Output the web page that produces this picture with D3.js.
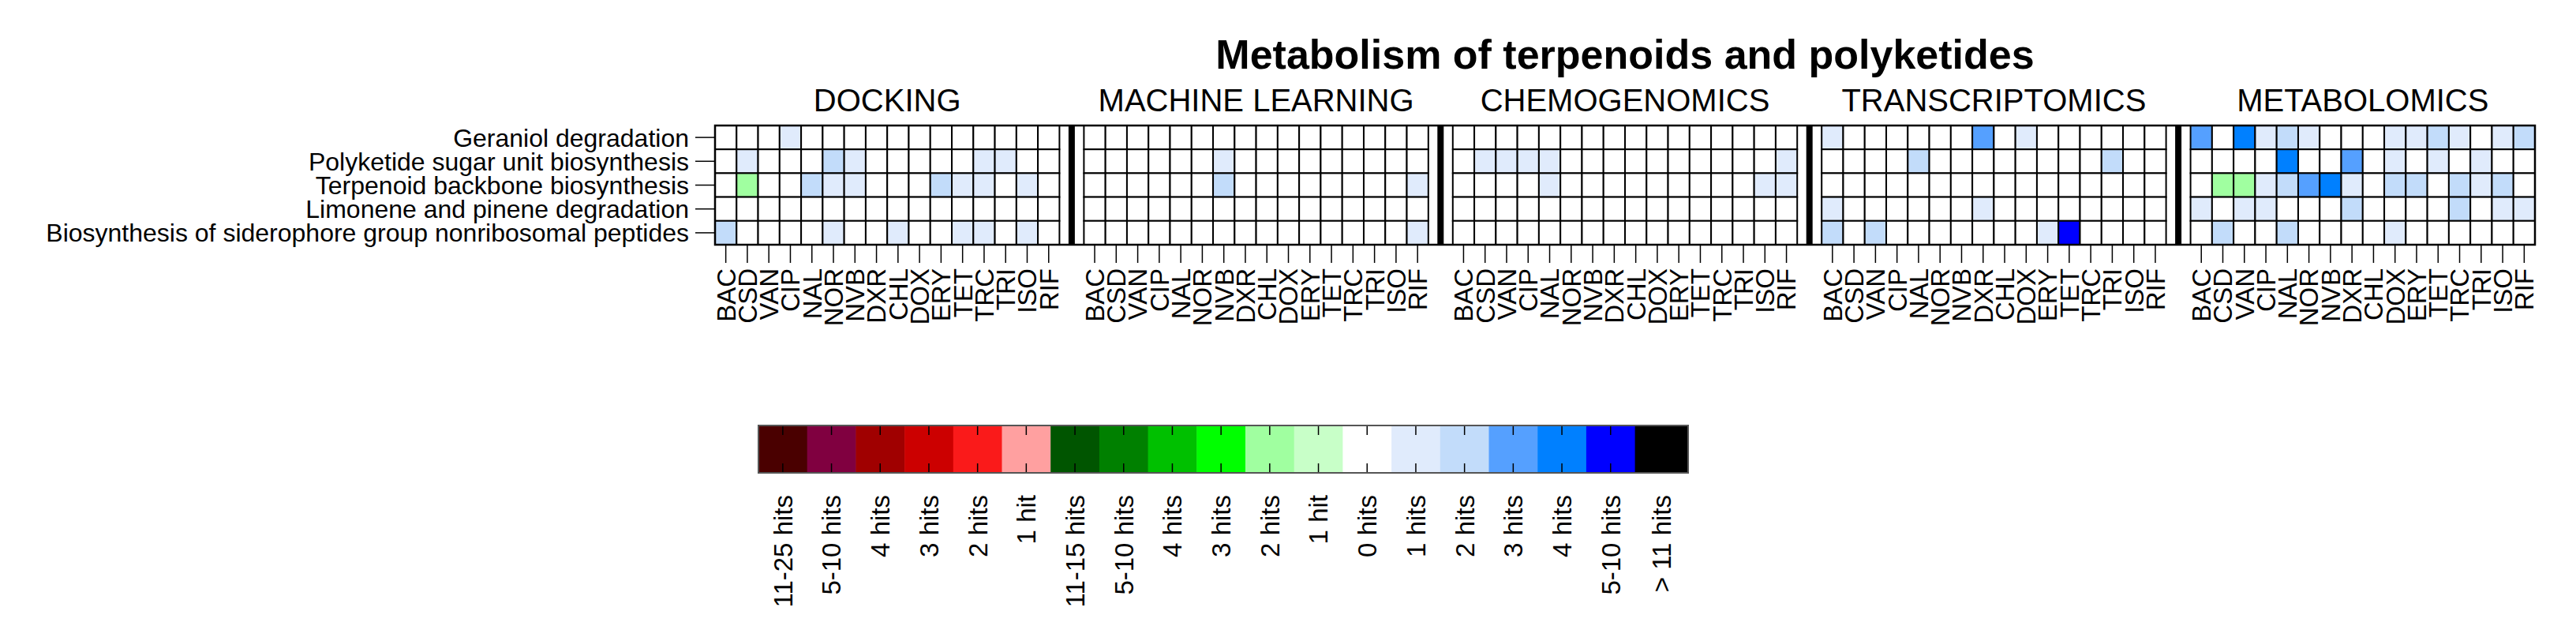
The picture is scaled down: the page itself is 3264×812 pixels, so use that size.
<!DOCTYPE html>
<html>
<head>
<meta charset="utf-8">
<script src="https://cdn.jsdelivr.net/npm/d3@7"></script>
<style>
  html, body { margin: 0; padding: 0; background: #ffffff; }
  svg { display: block; font-family: "Liberation Sans", Arial, Helvetica, sans-serif; }
</style>
</head>
<body>
<svg id="chart" width="3264" height="812"></svg>
<script>
// ---------- DATA ----------
const title = "Metabolism of terpenoids and polyketides";
const panels = ["DOCKING", "MACHINE LEARNING", "CHEMOGENOMICS", "TRANSCRIPTOMICS", "METABOLOMICS"];
const drugs = ["BAC", "CSD", "VAN", "CIP", "NAL", "NOR", "NVB", "DXR", "CHL", "DOX", "ERY", "TET", "TRC", "TRI", "ISO", "RIF"];
const pathways = [
  "Geraniol degradation",
  "Polyketide sugar unit biosynthesis",
  "Terpenoid backbone biosynthesis",
  "Limonene and pinene degradation",
  "Biosynthesis of siderophore group nonribosomal peptides"
];

// legend categories (key, label, colour)
const legendKeys   = ["r11", "r5", "r4", "r3", "r2", "r1", "g11", "g5", "g4", "g3", "g2", "g1", "0", "b1", "b2", "b3", "b4", "b5", "b11"];
const legendLabels = ["11-25 hits", "5-10 hits", "4 hits", "3 hits", "2 hits", "1 hit", "11-15 hits", "5-10 hits", "4 hits", "3 hits", "2 hits", "1 hit", "0 hits", "1 hits", "2 hits", "3 hits", "4 hits", "5-10 hits", "> 11 hits"];
const legendColors = ["#4a0000", "#800040", "#a00000", "#cc0000", "#fa1a1a", "#ffa0a0", "#005500", "#008000", "#00c000", "#00ff00", "#a0ffa0", "#c8ffc8", "#ffffff", "#e0ebfc", "#c2dcfa", "#55a0ff", "#0080ff", "#0000ff", "#000000"];

// cell categories per panel: rows = pathways, columns = drugs
const docking = [
  ["0","0","0","b1","0","0","0","0","0","0","0","0","0","0","0","0"],
  ["0","b1","0","0","0","b2","b1","0","0","0","0","0","b1","b1","0","0"],
  ["0","g2","0","0","b2","b1","b1","0","0","0","b2","b1","b1","0","b1","0"],
  ["0","0","0","0","0","0","0","0","0","0","0","0","0","0","0","0"],
  ["b2","0","0","0","0","b1","0","0","b1","0","0","b1","b1","0","b1","0"]
];
const machineLearning = [
  ["0","0","0","0","0","0","0","0","0","0","0","0","0","0","0","0"],
  ["0","0","0","0","0","0","b1","0","0","0","0","0","0","0","0","0"],
  ["0","0","0","0","0","0","b2","0","0","0","0","0","0","0","0","b1"],
  ["0","0","0","0","0","0","0","0","0","0","0","0","0","0","0","0"],
  ["0","0","0","0","0","0","0","0","0","0","0","0","0","0","0","b1"]
];
const chemogenomics = [
  ["0","0","0","0","0","0","0","0","0","0","0","0","0","0","0","0"],
  ["0","b1","b1","b1","b1","0","0","0","0","0","0","0","0","0","0","b1"],
  ["0","0","0","0","b1","0","0","0","0","0","0","0","0","0","b1","b1"],
  ["0","0","0","0","0","0","0","0","0","0","0","0","0","0","0","0"],
  ["0","0","0","0","0","0","0","0","0","0","0","0","0","0","0","0"]
];
const transcriptomics = [
  ["b1","0","0","0","0","0","0","b3","0","b1","0","0","0","0","0","0"],
  ["0","0","0","0","b2","0","0","0","0","0","0","0","0","b2","0","0"],
  ["0","0","0","0","0","0","0","0","0","0","0","0","0","0","0","0"],
  ["b1","0","0","0","0","0","0","b1","0","0","0","0","0","0","0","0"],
  ["b2","0","b2","0","0","0","0","0","0","0","b1","b5","0","0","0","0"]
];
const metabolomics = [
  ["b3","0","b4","b1","b2","b1","0","0","0","b1","b1","b2","b1","0","b1","b2"],
  ["0","0","0","0","b4","0","0","b3","0","b1","0","b1","0","b1","0","0"],
  ["0","g2","g2","b1","b2","b3","b4","b1","0","b2","b2","0","b2","b1","b2","0"],
  ["b1","0","b1","b1","0","0","0","b2","0","0","0","0","b2","0","b1","b1"],
  ["0","b2","0","0","b2","0","0","0","0","b1","0","0","0","0","0","0"]
];
const panelData = [docking, machineLearning, chemogenomics, transcriptomics, metabolomics];

// ---------- LAYOUT ----------
const W = 3264, H = 812;
const gridLeft = 906, gridRight = 3212, gridTop = 159, gridBottom = 310;
const font = 33;
const rowFont = 32;

const svg = d3.select("#chart");
svg.append("rect").attr("width", W).attr("height", H).attr("fill", "#ffffff");

const color = d3.scaleOrdinal().domain(legendKeys).range(legendColors);

const xPanel = d3.scaleBand().domain(panels).range([gridLeft, gridRight]).paddingInner(0.0663).paddingOuter(0);
const xDrug = d3.scaleBand().domain(drugs).range([0, xPanel.bandwidth()]);
const y = d3.scaleBand().domain(pathways).range([gridTop, gridBottom]);
const gap = xPanel.step() - xPanel.bandwidth();

// cells
const cells = [];
panels.forEach((p, pi) => {
  pathways.forEach((pw, ri) => {
    drugs.forEach((d, ci) => {
      cells.push({ panel: p, pathway: pw, drug: d, key: panelData[pi][ri][ci] });
    });
  });
});

const gCells = svg.append("g");
gCells.selectAll("rect.cell").data(cells).join("rect")
  .attr("class", "cell")
  .attr("x", d => xPanel(d.panel) + xDrug(d.drug))
  .attr("y", d => y(d.pathway))
  .attr("width", xDrug.bandwidth())
  .attr("height", y.bandwidth())
  .attr("fill", d => color(d.key))
  .attr("stroke", "#000")
  .attr("stroke-width", 2);

// separators
svg.append("g").selectAll("line.sep").data(panels.slice(0, -1)).join("line")
  .attr("class", "sep")
  .attr("x1", d => xPanel(d) + xPanel.bandwidth() + gap / 2)
  .attr("x2", d => xPanel(d) + xPanel.bandwidth() + gap / 2)
  .attr("y1", gridTop)
  .attr("y2", gridBottom)
  .attr("stroke", "#000")
  .attr("stroke-width", 8);

// outer frame
svg.append("rect")
  .attr("x", gridLeft).attr("y", gridTop)
  .attr("width", gridRight - gridLeft).attr("height", gridBottom - gridTop)
  .attr("fill", "none").attr("stroke", "#000").attr("stroke-width", 2.5);

// x axes per panel
panels.forEach(p => {
  const sc = d3.scaleBand().domain(drugs).range([xPanel(p), xPanel(p) + xPanel.bandwidth()]);
  const ax = svg.append("g")
    .attr("transform", `translate(0,${gridBottom})`)
    .call(d3.axisBottom(sc).tickSize(23).tickSizeOuter(0));
  ax.select(".domain").remove();
  ax.selectAll(".tick line").attr("stroke", "#000").attr("stroke-width", 1.5);
  ax.selectAll(".tick text")
    .attr("font-size", font)
    .attr("font-family", "Liberation Sans, Arial, sans-serif")
    .attr("fill", "#000")
    .attr("text-anchor", "end")
    .attr("transform", "rotate(-90)")
    .attr("x", -30)
    .attr("y", 0)
    .attr("dy", "0.36em");
});

// y axis
const yAx = svg.append("g")
  .attr("transform", `translate(${gridLeft},0)`)
  .call(d3.axisLeft(y).tickSize(25).tickPadding(8).tickSizeOuter(0));
yAx.select(".domain").remove();
yAx.selectAll(".tick line").attr("stroke", "#000").attr("stroke-width", 1.5);
yAx.selectAll(".tick text")
  .attr("font-size", rowFont)
  .attr("font-family", "Liberation Sans, Arial, sans-serif")
  .attr("fill", "#000")
  .attr("dy", "0.36em");

// panel headers
svg.append("g").selectAll("text.hdr").data(panels).join("text")
  .attr("class", "hdr")
  .attr("x", d => xPanel(d) + xPanel.bandwidth() / 2)
  .attr("y", 141)
  .attr("text-anchor", "middle")
  .attr("font-size", 40)
  .attr("fill", "#000")
  .text(d => d);

// title
svg.append("text")
  .attr("x", (gridLeft + gridRight) / 2)
  .attr("y", 87)
  .attr("text-anchor", "middle")
  .attr("font-size", 52)
  .attr("font-weight", "bold")
  .attr("fill", "#000")
  .text(title);

// ---------- LEGEND ----------
const legLeft = 961, legRight = 2139, legTop = 539, legBottom = 599;
const legStep = 61.7;
const xLeg = d3.scaleBand().domain(d3.range(legendKeys.length)).range([legLeft, legLeft + legStep * legendKeys.length]);
const gLeg = svg.append("g");
gLeg.selectAll("rect.seg").data(legendKeys).join("rect")
  .attr("class", "seg")
  .attr("x", (d, i) => xLeg(i))
  .attr("y", legTop)
  .attr("width", (d, i) => i === legendKeys.length - 1 ? legRight - xLeg(i) : xLeg.bandwidth() + 0.5)
  .attr("height", legBottom - legTop)
  .attr("fill", d => color(d));

const legCenter = (i) => i === legendKeys.length - 1 ? (xLeg(i) + legRight) / 2 : xLeg(i) + xLeg.bandwidth() / 2;

// inner ticks
gLeg.selectAll("line.tt").data(legendKeys).join("line")
  .attr("class", "tt")
  .attr("x1", (d, i) => legCenter(i)).attr("x2", (d, i) => legCenter(i))
  .attr("y1", legTop).attr("y2", legTop + 12)
  .attr("stroke", "#000").attr("stroke-width", 1.5);
gLeg.selectAll("line.tb").data(legendKeys).join("line")
  .attr("class", "tb")
  .attr("x1", (d, i) => legCenter(i)).attr("x2", (d, i) => legCenter(i))
  .attr("y1", legBottom - 12).attr("y2", legBottom)
  .attr("stroke", "#000").attr("stroke-width", 1.5);

gLeg.append("rect")
  .attr("x", legLeft).attr("y", legTop)
  .attr("width", legRight - legLeft).attr("height", legBottom - legTop)
  .attr("fill", "none").attr("stroke", "#555").attr("stroke-width", 2);

gLeg.selectAll("text.ll").data(legendLabels).join("text")
  .attr("class", "ll")
  .attr("transform", (d, i) => `translate(${legCenter(i)},627) rotate(-90)`)
  .attr("text-anchor", "end")
  .attr("dy", "0.36em")
  .attr("font-size", font)
  .attr("fill", "#000")
  .text(d => d);
</script>
</body>
</html>
